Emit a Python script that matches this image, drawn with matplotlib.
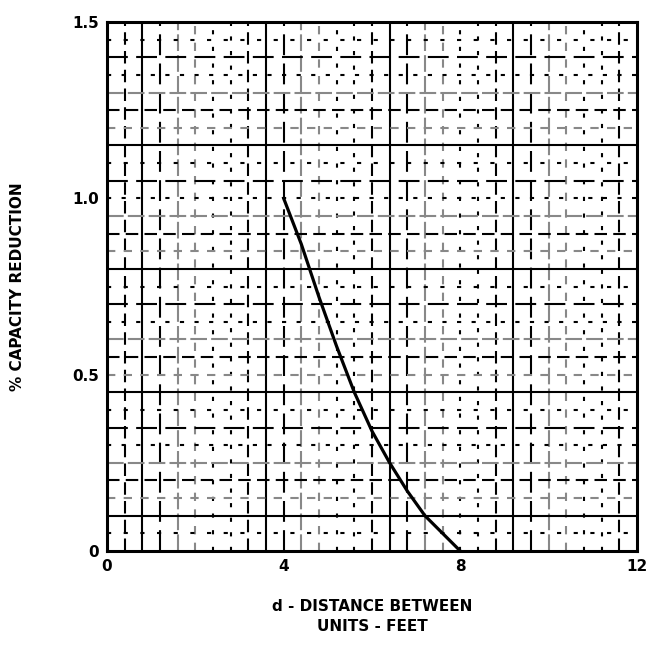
import matplotlib
matplotlib.use("Agg")
import matplotlib.pyplot as plt
import numpy as np

# Data
distance_ft = [4.0, 4.4, 4.8, 5.2, 5.6, 6.0, 6.4, 6.8, 7.2, 7.6, 8.0]
capacity_reduction = [1.0, 0.87, 0.72, 0.58, 0.45, 0.34, 0.25, 0.17, 0.10, 0.05, 0.0]
x_ticks = [0, 4, 8, 12]
x_tick_labels = ["0", "4", "8", "12"]
y_ticks = [0, 0.5, 1.0, 1.5]
y_tick_labels = ["0", "0.5", "1.0", "1.5"]

fig = plt.figure(figsize=(6.54, 6.56), dpi=100)
ax = fig.add_axes([0.1636, 0.16, 0.8104, 0.8065])
ax.set_xlim(0, 12)
ax.set_ylim(0, 1.5)

# grid line styles (scanned chart look)
styles = [
    dict(color="black", lw=1.5, ls=(0, (6, 3))),
    dict(color="black", lw=1.5, ls=(0, (2, 6))),
    dict(color="#888888", lw=1.5, ls=(0, (8, 2))),
    dict(color="black", lw=1.5, ls="-"),
    dict(color="black", lw=1.5, ls=(0, (2, 5))),
    dict(color="#888888", lw=1.5, ls=(0, (4, 4))),
    dict(color="black", lw=1.5, ls=(0, (10, 4))),
]
xs = np.linspace(0, 12, 31)[1:-1]
ys = np.linspace(0, 1.5, 31)[1:-1]
for i, x in enumerate(xs):
    ax.axvline(x, zorder=1, **styles[(i * 3) % len(styles)])
for i, y in enumerate(ys):
    ax.axhline(y, zorder=1, **styles[(i * 2 + 1) % len(styles)])

ax.plot(distance_ft, capacity_reduction, color="black", lw=2.3, zorder=3)

for s in ax.spines.values():
    s.set_linewidth(2.2)
    s.set_color("black")

ax.set_xticks(x_ticks)
ax.set_xticklabels(x_tick_labels, fontsize=11, fontweight="bold")
ax.set_yticks(y_ticks)
ax.set_yticklabels(y_tick_labels, fontsize=11, fontweight="bold")
ax.tick_params(length=0, pad=6)

ax.set_xlabel("d - DISTANCE BETWEEN\nUNITS - FEET", fontsize=11, fontweight="bold",
              labelpad=18, linespacing=1.35)
ax.set_ylabel("% CAPACITY REDUCTION", fontsize=11, fontweight="bold", labelpad=34)

fig.savefig("out.png", dpi=100)
